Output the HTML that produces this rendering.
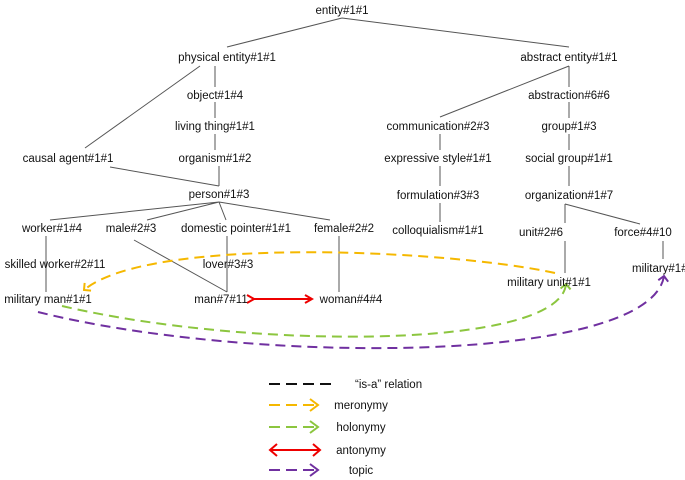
<!DOCTYPE html>
<html><head><meta charset="utf-8"><style>
body{margin:0;background:#fff}
svg{display:block}
text{font-family:"Liberation Sans",sans-serif;font-size:11.5px;fill:#111;text-anchor:middle}
</style></head><body>
<svg width="685" height="480" viewBox="0 0 685 480">
<defs>
<marker id="ar" markerWidth="10" markerHeight="10" refX="8" refY="5" orient="auto" markerUnits="userSpaceOnUse"><path d="M1,1 L8,5 L1,9" fill="none" stroke="#e00" stroke-width="2"/></marker>
<marker id="ao" markerWidth="12" markerHeight="12" refX="6" refY="6" orient="auto" markerUnits="userSpaceOnUse"><path d="M1,1 L6,6 L1,11" fill="none" stroke="#f5b800" stroke-width="2"/></marker>
<marker id="ag" markerWidth="12" markerHeight="12" refX="6" refY="6" orient="auto" markerUnits="userSpaceOnUse"><path d="M1,1 L6,6 L1,11" fill="none" stroke="#8cc63f" stroke-width="2"/></marker>
<marker id="ap" markerWidth="12" markerHeight="12" refX="6" refY="6" orient="auto" markerUnits="userSpaceOnUse"><path d="M1,1 L6,6 L1,11" fill="none" stroke="#7030a0" stroke-width="2"/></marker>
</defs>
<g stroke="#555" stroke-width="1" fill="none">
<path d="M342 18 L227 47 M342 18 L569 47"/>
<path d="M215 66 V87 M215 102 V118 M215 134 V150 M219 166 V186"/>
<path d="M200 66 L85 148 M110 167 L219 186"/>
<path d="M569 66 L440 117 M569 66 V87 M569 102 V118 M569 134 V150 M569 166 V186"/>
<path d="M440 134 V150 M440 166 V186 M440 203 V222"/>
<path d="M565 204 V223 M565 204 L640 224 M565 241 V273 M663 241 V259"/>
<path d="M219 202 L50 220 M219 202 L147 220 M219 202 L226 220 M219 202 L330 220"/>
<path d="M46 236 V292 M227 236 V292 M339 236 V292 M134 240 L227 292"/>
</g>
<path d="M555 273 C450 250,150 235,84 290" fill="none" stroke="#f5b800" stroke-width="2" stroke-dasharray="10,6" marker-end="url(#ao)"/>
<path d="M62 306 C250 350,560 350,566 284" fill="none" stroke="#8cc63f" stroke-width="2" stroke-dasharray="10,6" marker-end="url(#ag)"/>
<path d="M38 312 C250 365,650 365,664 276" fill="none" stroke="#7030a0" stroke-width="2" stroke-dasharray="10,6" marker-end="url(#ap)"/>
<path d="M254 299 H312" stroke="#e00" stroke-width="2" marker-end="url(#ar)" marker-start="url(#ar)"/>
<path d="M254 299 H312" stroke="#e00" stroke-width="2"/>
<g fill="#fff" stroke="none">
</g>
<text x="342" y="14">entity#1#1</text>
<text x="227" y="61">physical entity#1#1</text>
<text x="569" y="61">abstract entity#1#1</text>
<text x="215" y="99">object#1#4</text>
<text x="215" y="130">living thing#1#1</text>
<text x="215" y="162">organism#1#2</text>
<text x="68" y="162">causal agent#1#1</text>
<text x="219" y="198">person#1#3</text>
<text x="569" y="99">abstraction#6#6</text>
<text x="569" y="130">group#1#3</text>
<text x="569" y="162">social group#1#1</text>
<text x="569" y="199">organization#1#7</text>
<text x="438" y="130">communication#2#3</text>
<text x="438" y="162">expressive style#1#1</text>
<text x="438" y="199">formulation#3#3</text>
<text x="438" y="234">colloquialism#1#1</text>
<text x="52" y="232">worker#1#4</text>
<text x="131" y="232">male#2#3</text>
<text x="236" y="232">domestic pointer#1#1</text>
<text x="344" y="232">female#2#2</text>
<text x="55" y="268">skilled worker#2#11</text>
<text x="228" y="268">lover#3#3</text>
<text x="48" y="303">military man#1#1</text>
<text x="221" y="303">man#7#11</text>
<text x="351" y="303">woman#4#4</text>
<text x="541" y="236">unit#2#6</text>
<text x="643" y="236">force#4#10</text>
<text x="549" y="286">military unit#1#1</text>
<text x="663" y="272">military#1#1</text>
<path d="M269 384 H332" stroke="#111" stroke-width="2" stroke-dasharray="11,6"/>
<text x="355" y="388" style="text-anchor:start" x2="0">“is-a” relation</text>
<path d="M269 405 H316" stroke="#f5b800" stroke-width="2" stroke-dasharray="11,6"/><path d="M310 399 L318 405 L310 411" fill="none" stroke="#f5b800" stroke-width="2"/>
<text x="361" y="409">meronymy</text>
<path d="M269 427 H316" stroke="#8cc63f" stroke-width="2" stroke-dasharray="11,6"/><path d="M310 421 L318 427 L310 433" fill="none" stroke="#8cc63f" stroke-width="2"/>
<text x="361" y="431">holonymy</text>
<path d="M271 450 H319" stroke="#e00" stroke-width="2"/><path d="M277 444 L270 450 L277 456 M313 444 L320 450 L313 456" fill="none" stroke="#e00" stroke-width="2"/>
<text x="361" y="454">antonymy</text>
<path d="M269 470 H316" stroke="#7030a0" stroke-width="2" stroke-dasharray="11,6"/><path d="M310 464 L318 470 L310 476" fill="none" stroke="#7030a0" stroke-width="2"/>
<text x="361" y="474">topic</text>
</svg>
</body></html>
